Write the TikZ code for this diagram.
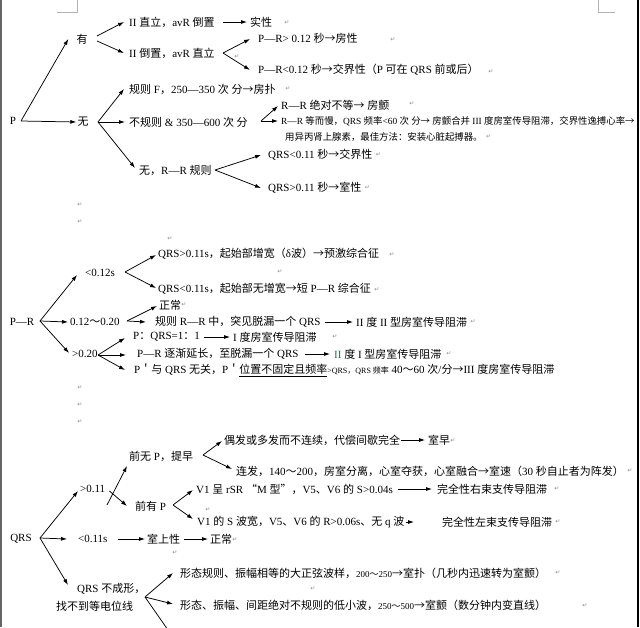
\documentclass[tikz,border=0pt]{standalone}
\usepackage{fontspec}
\setmainfont{Liberation Serif}
\newfontfamily\cjkf{Noto Sans CJK SC}
\newfontfamily\symf{DejaVu Sans}
\usetikzlibrary{arrows.meta,calc}
\XeTeXinterchartokenstate=1
\newXeTeXintercharclass\cjkcls
\newcount\cjkcc
\def\setcjk#1#2{\cjkcc=#1\relax\loop\XeTeXcharclass\cjkcc=\cjkcls\advance\cjkcc by 1\relax\ifnum\cjkcc<#2\relax\repeat}
\setcjk{"2190}{"2200}
\setcjk{"3000}{"3040}
\setcjk{"4E00}{"A000}
\setcjk{"FF00}{"FFF0}
\XeTeXcharclass"201C=\cjkcls
\XeTeXcharclass"201D=\cjkcls
\XeTeXcharclass"21B5=0
\XeTeXinterchartoks 0 \cjkcls = {\cjkf}
\XeTeXinterchartoks 4095 \cjkcls = {\cjkf}
\XeTeXinterchartoks \cjkcls 0 = {\rmfamily}
\XeTeXinterchartoks \cjkcls 4095 = {\rmfamily}
\definecolor{grn}{RGB}{30,120,80}
\tikzset{
 txt/.style={anchor=west, inner sep=0pt, font=\fontsize{11}{13}\selectfont},
 sml/.style={txt, font=\fontsize{9.4}{11}\selectfont},
 ctr/.style={txt, anchor=center},
 arr/.style={-{Latex[length=6pt,width=4pt]}, line width=0.75pt},
 mk/.style={inner sep=0pt, font=\symf\fontsize{6}{6}\selectfont, text=black!45},
}
\begin{document}
\begin{tikzpicture}[x=1pt,y=-1pt]
\fill[white] (0,0) rectangle (640,627);
\useasboundingbox (0,0) rectangle (640,627);
% ---------- Section 1: P ----------
\node[ctr] (P) at (13,121) {P};
\node[ctr] (you) at (82,39) {有};
\node[ctr] (wu) at (83,122) {无};
\node[txt] (a1) at (129,22) {II 直立，avR 倒置};
\node[txt] (a1r) at (250,22) {实性};
\node[txt] (a2) at (129,53) {II 倒置，avR 直立};
\node[txt] (a3) at (258,38) {P—R> 0.12 秒→房性};
\node[txt] (a4) at (258,70) {P—R<0.12 秒→交界性（P 可在 QRS 前或后）};
\node[txt] (a5) at (129,89) {规则 F，250—350 次 分→房扑};
\node[txt] (a6) at (129,122) {不规则 \& 350—600 次 分};
\node[txt] (a7) at (281,105) {R—R 绝对不等→ 房颤};
\node[sml] (a8) at (281,121) {R—R 等而慢，QRS 频率<60 次 分→ 房颤合并 III 度房室传导阻滞，交界性逸搏心率→};
\node[sml] (a8b) at (285,137) {用异丙肾上腺素，最佳方法：安装心脏起搏器。};
\node[txt] (a9) at (139,171) {无，R—R 规则};
\node[txt] (a10) at (268,155) {QRS<0.11 秒→交界性};
\node[txt] (a11) at (268,188) {QRS>0.11 秒→室性};
\coordinate (Pb) at (21,121);
\coordinate (yb1) at (97,36);
\coordinate (yb2) at (97,41);
\coordinate (b1) at (223,22);
\coordinate (b2) at (223,53);
\coordinate (wb) at (98,122);
\coordinate (b6) at (261,121);
\coordinate (b9) at (215,170);
\draw[arr] (Pb) -- ([shift={(-8,0)}]you.west);
\draw[arr] (Pb) -- ([shift={(-1,0)}]wu.west);
\draw[arr] (yb1) -- ([shift={(-5,0)}]a1.west);
\draw[arr] (yb2) -- ([shift={(-5,0)}]a2.west);
\draw[arr] (b1) -- ([shift={(-3,0)}]a1r.west);
\draw[arr] (b2) -- ([shift={(-8,1)}]a3.west);
\draw[arr] (b2) -- ([shift={(-8,0)}]a4.west);
\draw[arr] (wb) -- ([shift={(-5,0)}]a5.west);
\draw[arr] (wb) -- ([shift={(-4,0)}]a6.west);
\draw[arr] (wb) -- ([shift={(-4,-3)}]a9.west);
\draw[arr] (b6) -- ([shift={(-3,1)}]a7.west);
\draw[arr] (b6) -- ([shift={(-3,0)}]a8.west);
\draw[arr] (b9) -- ([shift={(-7,0)}]a10.west);
\draw[arr] (b9) -- ([shift={(-7,0)}]a11.west);
% ---------- Section 2: P-R ----------
\node[ctr] (PR) at (22,322) {P—R};
\node[txt] (s1) at (85,273) {<0.12s};
\node[txt] (s2) at (70,322) {0.12～0.20};
\node[txt] (s3) at (72,354) {>0.20};
\node[txt] (s4) at (158,254) {QRS>0.11s，起始部增宽（δ波）→预激综合征};
\node[txt] (s5) at (158,289) {QRS<0.11s，起始部无增宽→短 P—R 综合征};
\node[txt] (s6) at (159,305) {正常};
\node[txt] (s7) at (155,322) {规则 R—R 中，突见脱漏一个 QRS};
\node[txt] (s7b) at (356,322) {II 度 II 型房室传导阻滞};
\node[txt] (s8) at (133,337) {P：QRS=1：1};
\node[txt] (s8b) at (233,337) {I 度房室传导阻滞};
\node[txt] (s9) at (137,354) {P—R 逐渐延长，至脱漏一个 QRS};
\node[txt] (s9b) at (334,354) {\textcolor{grn}{II} 度 I 型房室传导阻滞};
\node[txt] (s10) at (134,370) {P＇与 QRS 无关，P＇\underline{位置不固定且频率}\rmfamily{\fontsize{8}{9}\selectfont\rmfamily >QRS，QRS 频率} 40～60 次/分→III 度房室传导阻滞};
\coordinate (PRb) at (40,321);
\coordinate (c1) at (125,272);
\coordinate (c2) at (127,321);
\coordinate (c3) at (98,355);
\draw[arr] (PRb) -- ([shift={(-8,2)}]s1.west);
\draw[arr] (PRb) -- ([shift={(-2,0)}]s2.west);
\draw[arr] (PRb) -- ([shift={(-3,-1)}]s3.west);
\draw[arr] (c1) -- ([shift={(-2,1)}]s4.west);
\draw[arr] (c1) -- ([shift={(-2,-1)}]s5.west);
\draw[arr] (c2) -- ([shift={(-2,1)}]s6.west);
\draw[arr] (c2) -- ([shift={(-9,0)}]s7.west);
\draw[arr] ([shift={(4,0)}]s7.east) -- ([shift={(-3,0)}]s7b.west);
\draw[arr] (c3) -- ([shift={(-8,1)}]s8.west);
\draw[arr] (c3) -- ([shift={(-11,1)}]s9.west);
\draw[arr] (c3) -- ([shift={(-9,0)}]s10.west);
\draw[arr] ([shift={(4,0)}]s8.east) -- ([shift={(-3,0)}]s8b.west);
\draw[arr] ([shift={(6,0)}]s9.east) -- ([shift={(-4,0)}]s9b.west);
% ---------- Section 3: QRS ----------
\node[ctr] (Q) at (21,539) {QRS};
\node[txt] (q1) at (80,489) {>0.11};
\node[txt] (q2) at (78,539) {<0.11s};
\node[txt] (q3) at (147,539) {室上性};
\node[txt] (q4) at (210,539) {正常};
\node[txt] (q5a) at (77,589) {QRS 不成形，};
\node[txt] (q5b) at (56,606) {找不到等电位线};
\node[txt] (q6) at (129,456) {前无 P，提早};
\node[txt] (q7) at (135,506) {前有 P};
\node[txt] (q8) at (224,440) {偶发或多发而不连续，代偿间歇完全};
\node[txt] (q8b) at (428,440) {室早};
\node[txt] (q9) at (236,471) {连发，140～200，房室分离，心室夺获，心室融合→室速（30 秒自止者为阵发）};
\node[txt] (q10) at (196,489) {V1 呈 rSR “M 型”，V5、V6 的 S>0.04s};
\node[txt] (q10b) at (437,489) {完全性右束支传导阻滞};
\node[txt] (q11) at (197,522) {V1 的 S 波宽，V5、V6 的 R>0.06s、无 q 波};
\node[txt] (q11b) at (442,522) {完全性左束支传导阻滞};
\node[txt] (q12) at (180,573) {形态规则、振幅相等的大正弦波样，{\fontsize{9}{10}\selectfont\rmfamily 200～250}→室扑（几秒内迅速转为室颤）};
\node[txt] (q13) at (180,605) {形态、振幅、间距绝对不规则的低小波，{\fontsize{9}{10}\selectfont\rmfamily 250～500}→室颤（数分钟内变直线）};
\coordinate (Qb) at (40,538);
\coordinate (x1) at (107,505);
\coordinate (d1) at (203,455);
\coordinate (d2) at (173,505);
\coordinate (d3) at (145,597);
\coordinate (dn) at (168,630);
\draw[arr] (Qb) -- ([shift={(-2,2)}]q1.west);
\draw[arr] (Qb) -- ([shift={(-11,0)}]q2.west);
\draw[arr] (Qb) -- ([shift={(-9,-4)}]q5a.west);
\draw[arr] ([shift={(10,0)}]q2.east) -- ([shift={(-2,0)}]q3.west);
\draw[arr] ([shift={(4,0)}]q3.east) -- ([shift={(-2,0)}]q4.west);
\draw[arr] (x1) -- ([shift={(-2,10)}]q6.west);
\draw[arr] ([shift={(4,2)}]q1.east) -- ([shift={(-8,0)}]q7.west);
\draw[arr] (d1) -- ([shift={(-2,1)}]q8.west);
\draw[arr] (d1) -- ([shift={(-4,-2)}]q9.west);
\draw[arr] ([shift={(1,0)}]q8.east) -- ([shift={(-3,0)}]q8b.west);
\draw[arr] (d2) -- ([shift={(-3,1)}]q10.west);
\draw[arr] (d2) -- ([shift={(-4,-3)}]q11.west);
\draw[arr] ([shift={(5,0)}]q10.east) -- ([shift={(-5,0)}]q10b.west);
\draw[arr] ([shift={(1,0)}]q11.east) -- ([shift={(-28,0)}]q11b.west);
\draw[arr] (d3) -- ([shift={(-7,0)}]q12.west);
\draw[arr] (d3) -- ([shift={(-7,-1)}]q13.west);
\draw[line width=0.75pt] (d3) -- (dn);
% ---------- paragraph marks ----------
\foreach \mx/\my [count=\i] in {287/23,237/57,393/40,491/72,288/89,412/104,80/205,80/222,170/239,392/255,280/272,377/290,184/305,335/337,449/354,80/388,80/405,80/422,453/441,557/489,208/510,558/522,235/540,175/553,558/573,313/589,585/606}
  \node[mk] (m\i) at (\mx,\my) {↵};
\node[mk, anchor=west] (ma8b) at ([shift={(3,0)}]a8b.east) {↵};
\node[mk, anchor=west] (ma10) at ([shift={(3,0)}]a10.east) {↵};
\node[mk, anchor=west] (ma11) at ([shift={(3,0)}]a11.east) {↵};
\node[mk, anchor=west] (ms7b) at ([shift={(3,0)}]s7b.east) {↵};
\node[mk, anchor=west] (mq9) at ([shift={(3,0)}]q9.east) {↵};
% ---------- page frame ----------
\draw[black!30, line width=0.8pt] (57,12) -- (77,12) -- (77,0);
\draw[black!30, line width=0.8pt] (598,0) -- (598,12) -- (615,12);
\draw[black!60, line width=1.5pt] (0.8,0) -- (0.8,627);
\fill[black] (636.5,0) rectangle (639,627);
\end{tikzpicture}
\end{document}
